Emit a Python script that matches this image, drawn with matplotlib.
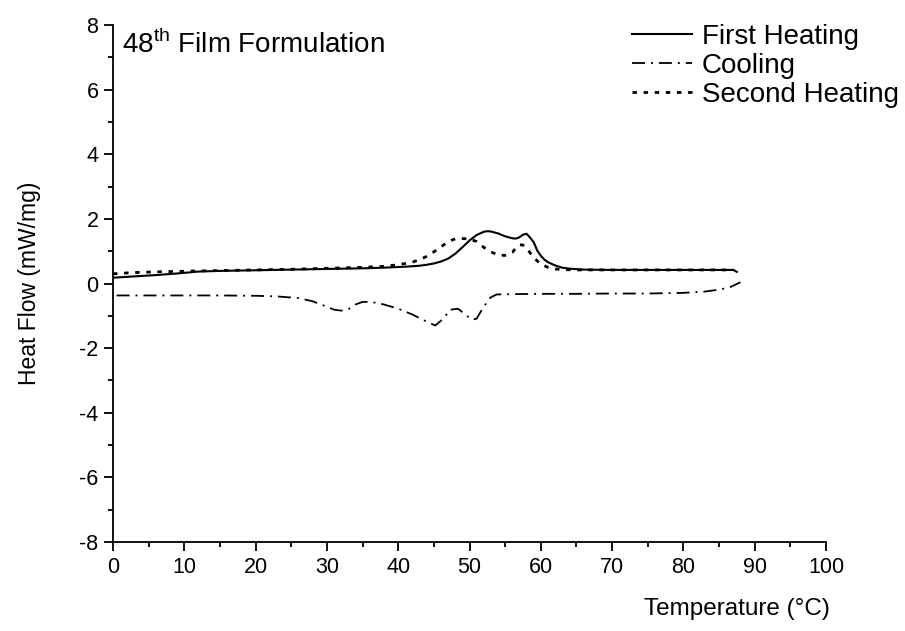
import matplotlib
matplotlib.use("Agg")
import matplotlib.pyplot as plt
from matplotlib.ticker import MultipleLocator

plt.rcParams['font.family'] = ['Liberation Sans', 'DejaVu Sans']
plt.rcParams['mathtext.fontset'] = 'custom'
plt.rcParams['mathtext.rm'] = 'Liberation Sans'
plt.rcParams['axes.unicode_minus'] = False

# first heating (solid)
t_first = [0, 3, 6, 9, 12, 15, 20, 25, 30, 35, 38, 41, 43, 44, 45, 46, 47, 48, 49,
           50, 51, 52, 52.5, 53, 54, 55, 56, 56.5, 57, 57.5, 58, 58.5, 59, 59.5,
           60, 60.5, 61, 62, 63, 64, 66, 70, 75, 80, 85, 87, 87.5]
hf_first = [0.18, 0.22, 0.26, 0.31, 0.37, 0.39, 0.41, 0.43, 0.45, 0.47, 0.49, 0.52,
            0.55, 0.58, 0.62, 0.68, 0.77, 0.92, 1.12, 1.33, 1.50, 1.60, 1.62, 1.61,
            1.55, 1.46, 1.40, 1.39, 1.43, 1.51, 1.54, 1.42, 1.28, 1.02, 0.86, 0.74,
            0.66, 0.56, 0.49, 0.46, 0.43, 0.42, 0.42, 0.42, 0.42, 0.42, 0.36]

# cooling (dash-dot)
t_cool = [0.5, 5, 10, 15, 20, 23, 26, 28, 30, 31, 32, 33, 34, 35, 36, 37, 38, 40,
          42, 44, 45.2, 46, 46.6, 47.3, 48.4, 49.4, 50.3, 51, 51.9, 52.9, 53.8, 56,
          60, 65, 70, 75, 80, 83, 85, 86.5, 88]
hf_cool = [-0.37, -0.37, -0.37, -0.37, -0.38, -0.40, -0.45, -0.55, -0.72, -0.81,
           -0.84, -0.80, -0.65, -0.57, -0.57, -0.60, -0.65, -0.78, -0.96, -1.18,
           -1.30, -1.15, -1.01, -0.81, -0.78, -0.96, -1.12, -1.09, -0.75, -0.44,
           -0.34, -0.33, -0.32, -0.32, -0.31, -0.31, -0.29, -0.25, -0.19, -0.12, 0.04]

# second heating (dotted)
t_second = [0, 3, 6, 10, 12, 15, 20, 25, 30, 35, 38, 40, 42, 43, 44, 45, 46, 47,
            48, 49, 50, 51, 52, 53, 54, 55, 56, 56.5, 57, 57.5, 58, 58.5, 59, 60,
            61, 62, 63, 65, 70, 75, 80, 85, 87]
hf_second = [0.30, 0.34, 0.36, 0.38, 0.39, 0.40, 0.42, 0.44, 0.47, 0.50, 0.53, 0.58,
             0.66, 0.74, 0.84, 0.98, 1.13, 1.30, 1.38, 1.39, 1.38, 1.30, 1.12, 0.98,
             0.88, 0.87, 0.96, 1.10, 1.20, 1.19, 1.10, 0.95, 0.80, 0.60, 0.50, 0.45,
             0.43, 0.42, 0.42, 0.42, 0.42, 0.42, 0.42]

fig = plt.figure(figsize=(9.05, 6.31), dpi=100)
ax = fig.add_axes([113 / 905, 1 - 542 / 631, 713 / 905, 517 / 631])

ax.plot(t_first, hf_first, color='black', lw=1.5, label='First Heating')
ax.plot(t_cool, hf_cool, color='black', lw=1.3, linestyle=(0, (7.2, 3.3, 1.1, 3.3)),
        label='Cooling')
ax.plot(t_second, hf_second, color='black', lw=2.0, linestyle=(0, (1.6, 2.4)),
        label='Second Heating')

ax.set_xlim(0, 100)
ax.set_ylim(-8, 8)
ax.xaxis.set_major_locator(MultipleLocator(10))
ax.xaxis.set_minor_locator(MultipleLocator(5))
ax.yaxis.set_major_locator(MultipleLocator(2))
ax.yaxis.set_minor_locator(MultipleLocator(1))

for s in ['top', 'right']:
    ax.spines[s].set_visible(False)
for s in ['left', 'bottom']:
    ax.spines[s].set_linewidth(1.3)

ax.tick_params(which='major', direction='out', length=6.5, width=1.3,
               labelsize=15.5, pad=4)
ax.tick_params(which='minor', direction='out', length=3.5, width=1.3)

ax.set_xlabel('Temperature (°C)', fontsize=17.5, ha='right')
ax.xaxis.set_label_coords(1.006, -0.108)
ax.set_ylabel('Heat Flow (mW/mg)', fontsize=16.5)
ax.yaxis.set_label_coords(-0.101, 0.5)

ax.text(0.0126, 0.946, '48$^{\\rm th}$ Film Formulation', transform=ax.transAxes,
        fontsize=20, va='baseline', ha='left')

fig.legend(loc='upper left', bbox_to_anchor=(632 / 905, 1 - 24 / 631),
           frameon=False, fontsize=20, handlelength=2.15, handletextpad=0.36,
           labelspacing=0.1, borderpad=0, borderaxespad=0)

fig.savefig('out.png', dpi=100)
